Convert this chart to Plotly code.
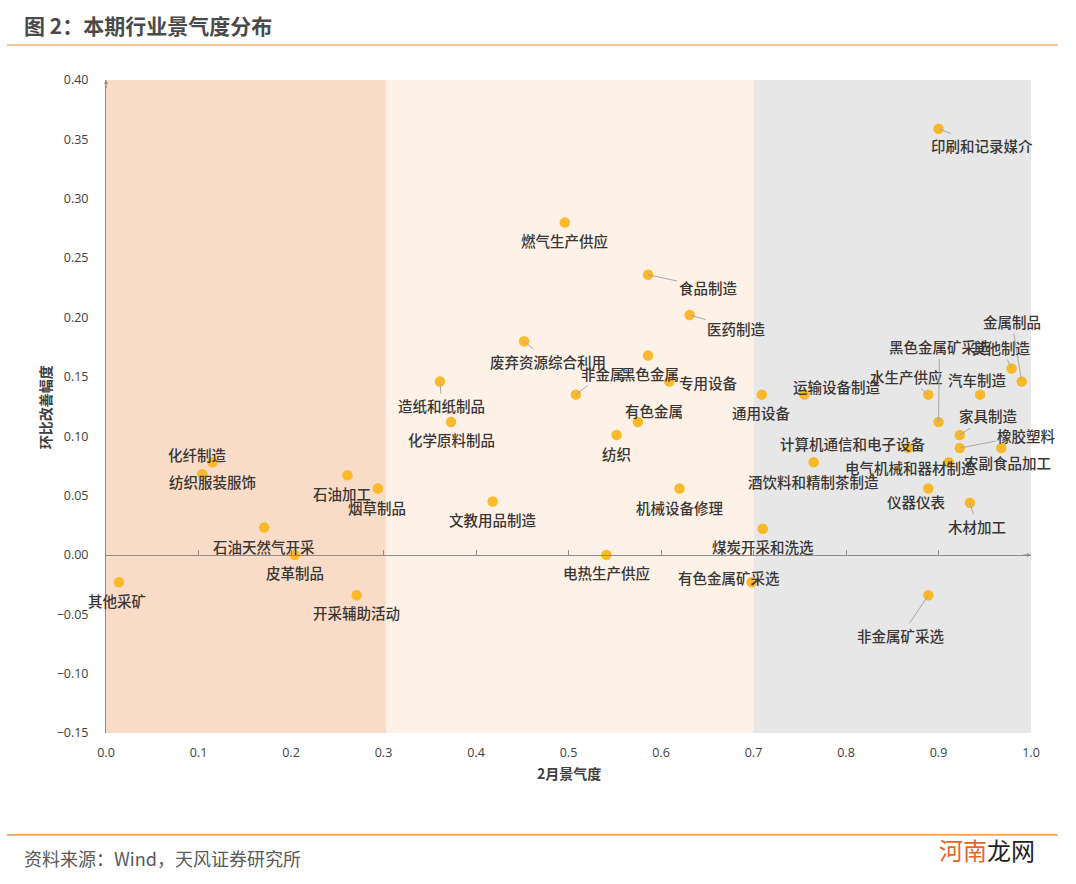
import plotly.graph_objects as go

# ---------------- data ----------------
industries = [
    "印刷和记录媒介", "燃气生产供应", "食品制造", "医药制造", "废弃资源综合利用",
    "黑色金属", "专用设备", "非金属", "造纸和纸制品", "化学原料制品",
    "有色金属", "纺织", "机械设备修理", "文教用品制造", "电热生产供应",
    "有色金属矿采选", "煤炭开采和洗选", "非金属矿采选", "化纤制造", "纺织服装服饰",
    "石油加工", "烟草制品", "石油天然气开采", "皮革制品", "其他采矿",
    "开采辅助活动", "通用设备", "运输设备制造", "水生产供应", "汽车制造",
    "金属制品", "其他制造", "黑色金属矿采选", "家具制造", "橡胶塑料",
    "农副食品加工", "计算机通信和电子设备", "酒饮料和精制茶制造", "电气机械和器材制造", "仪器仪表",
    "木材加工",
]
feb_index = [
    0.900, 0.496, 0.586, 0.631, 0.452,
    0.586, 0.609, 0.508, 0.361, 0.373,
    0.575, 0.552, 0.620, 0.418, 0.541,
    0.698, 0.710, 0.889, 0.115, 0.104,
    0.261, 0.294, 0.171, 0.204, 0.014,
    0.271, 0.709, 0.755, 0.889, 0.945,
    0.990, 0.979, 0.900, 0.923, 0.923,
    0.968, 0.867, 0.765, 0.911, 0.889,
    0.934,
]
mom_change = [
    0.359, 0.280, 0.236, 0.202, 0.180,
    0.168, 0.146, 0.135, 0.146, 0.112,
    0.112, 0.101, 0.056, 0.045, 0.000,
    -0.023, 0.022, -0.034, 0.078, 0.068,
    0.067, 0.056, 0.023, 0.000, -0.023,
    -0.034, 0.135, 0.135, 0.135, 0.135,
    0.146, 0.157, 0.112, 0.101, 0.090,
    0.090, 0.090, 0.078, 0.078, 0.056,
    0.044,
]
zones = [0.0, 0.303, 0.70, 1.0]
x_ticks = [0.0, 0.1, 0.2, 0.3, 0.4, 0.5, 0.6, 0.7, 0.8, 0.9, 1.0]
y_ticks = [-0.15, -0.10, -0.05, 0.0, 0.05, 0.10, 0.15, 0.20, 0.25, 0.30, 0.35, 0.40]

# ---------------- label placement (pixel offsets) ----------------
label_offsets = {
    "印刷和记录媒介": (43, 17), "燃气生产供应": (0, 18), "食品制造": (60, 13),
    "医药制造": (47, 13), "废弃资源综合利用": (24, 20), "黑色金属": (2, 18),
    "专用设备": (39, 1), "非金属": (27, -21), "造纸和纸制品": (2, 24),
    "化学原料制品": (0, 18), "有色金属": (16, -11), "纺织": (0, 19),
    "机械设备修理": (0, 19), "文教用品制造": (0, 18), "电热生产供应": (0, 18),
    "有色金属矿采选": (-23, -5), "煤炭开采和洗选": (0, 18), "非金属矿采选": (-27, 40),
    "化纤制造": (-15, -8), "纺织服装服饰": (10, 7), "石油加工": (-5, 18),
    "烟草制品": (-1, 19), "石油天然气开采": (0, 19), "皮革制品": (0, 18),
    "其他采矿": (-2, 18), "开采辅助活动": (0, 17), "通用设备": (0, 18),
    "运输设备制造": (33, -8), "水生产供应": (-22, -18), "汽车制造": (-3, -15),
    "金属制品": (-10, -60), "其他制造": (-10, -21), "黑色金属矿采选": (1, -75),
    "家具制造": (29, -19), "橡胶塑料": (67, -13), "农副食品加工": (6, 14),
    "计算机通信和电子设备": (-55, -5), "酒饮料和精制茶制造": (0, 19),
    "电气机械和器材制造": (-38, 5), "仪器仪表": (-12, 13), "木材加工": (7, 24),
}
with_leader = {"印刷和记录媒介", "食品制造", "医药制造", "废弃资源综合利用", "非金属",
               "造纸和纸制品", "非金属矿采选", "纺织服装服饰", "水生产供应", "金属制品",
               "其他制造", "黑色金属矿采选", "家具制造", "橡胶塑料", "木材加工"}

FONT = "Noto Sans CJK SC"
zone_colors = ["#F9DCC7", "#FDF1E8", "#E7E7E7"]

fig = go.Figure()
fig.add_trace(go.Scatter(
    x=feb_index, y=mom_change, mode="markers",
    marker=dict(size=10.5, color="#FBB41A", opacity=0.92),
    text=industries, hoverinfo="text", showlegend=False,
))

shapes = []
for i in range(3):
    shapes.append(dict(type="rect", xref="x", yref="y", x0=zones[i], x1=zones[i + 1],
                       y0=y_ticks[0], y1=y_ticks[-1], fillcolor=zone_colors[i],
                       line=dict(width=0), layer="below"))
# header / footer rules
shapes.append(dict(type="line", xref="paper", yref="paper", x0=-0.107, x1=1.029,
                   y0=1.0536, y1=1.0536, line=dict(color="#E88A3C", width=1)))
shapes.append(dict(type="line", xref="paper", yref="paper", x0=-0.107, x1=1.029,
                   y0=-0.156, y1=-0.156, line=dict(color="#EE7D1E", width=1.2)))

annotations = []
for name, xv, yv in zip(industries, feb_index, mom_change):
    dx, dy = label_offsets[name]
    annotations.append(dict(
        x=xv, y=yv, xref="x", yref="y", text=name, showarrow=True,
        ax=dx, ay=dy, arrowhead=0, arrowwidth=1, standoff=0,
        arrowcolor="#A8A8A8" if name in with_leader else "rgba(0,0,0,0)",
        font=dict(family=FONT, size=14.5, color="#3A3634", weight=500),
    ))

# axis arrows
annotations.append(dict(x=0, y=0.40, ax=0, ay=0.392, xref="x", yref="y", axref="x", ayref="y",
                        showarrow=True, arrowhead=2, arrowsize=0.8, arrowwidth=1,
                        arrowcolor="#8C8C8C", text=""))
annotations.append(dict(x=1.0, y=0.0, ax=0.99, ay=0.0, xref="x", yref="y", axref="x", ayref="y",
                        showarrow=True, arrowhead=2, arrowsize=0.8, arrowwidth=1,
                        arrowcolor="#8C8C8C", text=""))

# titles and texts
annotations += [
    dict(x=-0.0908, y=1.084, xref="paper", yref="paper", xanchor="left", yanchor="middle",
         text="<b>图 2：本期行业景气度分布</b>", showarrow=False,
         font=dict(family=FONT, size=21, color="#4A4A4A")),
    dict(x=-0.0659, y=0.499, xref="paper", yref="paper", textangle=-90,
         xanchor="center", yanchor="middle",
         text="<b>环比改善幅度</b>", showarrow=False,
         font=dict(family=FONT, size=14, color="#404040")),
    dict(x=0.5005, y=-0.0613, xref="paper", yref="paper", xanchor="center", yanchor="middle",
         text="<b>2月景气度</b>", showarrow=False,
         font=dict(family=FONT, size=14, color="#404040")),
    dict(x=-0.0908, y=-0.191, xref="paper", yref="paper", xanchor="left", yanchor="middle",
         text="资料来源：Wind，天风证券研究所", showarrow=False,
         font=dict(family=FONT, size=18, color="#595959")),
    dict(x=1.006, y=-0.178, xref="paper", yref="paper", xanchor="right", yanchor="middle",
         text="<span style='color:#E8642A'>河南</span><span style='color:#222222'>龙网</span>",
         showarrow=False, font=dict(family=FONT, size=24)),
]

fig.update_layout(
    width=1076, height=884,
    margin=dict(l=106, r=45, t=80, b=151),
    paper_bgcolor="white", plot_bgcolor="white",
    shapes=shapes, annotations=annotations,
    xaxis=dict(range=[0, 1], tickvals=x_ticks, tickformat=".1f", showgrid=False,
               zeroline=False, showline=False, ticks="", ticklabelstandoff=10,
               tickfont=dict(family="Open Sans", size=12.5, color="#404040")),
    xaxis2=dict(range=[0, 1], overlaying="x", anchor="free",
                position=(0 - y_ticks[0]) / (y_ticks[-1] - y_ticks[0]),
                tickvals=x_ticks, showticklabels=False, ticks="inside", ticklen=5,
                tickcolor="#8C8C8C", showline=True, linecolor="#8C8C8C", linewidth=1,
                showgrid=False, zeroline=False),
    yaxis=dict(range=[y_ticks[0], y_ticks[-1]], tickvals=y_ticks, tickformat=".2f",
               showgrid=False, zeroline=False, showline=True, linecolor="#8C8C8C",
               linewidth=1, ticks="", ticklabelstandoff=14,
               tickfont=dict(family="Open Sans", size=12.5, color="#404040")),
)
fig.add_trace(go.Scatter(x=[None], y=[None], xaxis="x2", showlegend=False, hoverinfo="skip"))

fig.write_html("out.html")
